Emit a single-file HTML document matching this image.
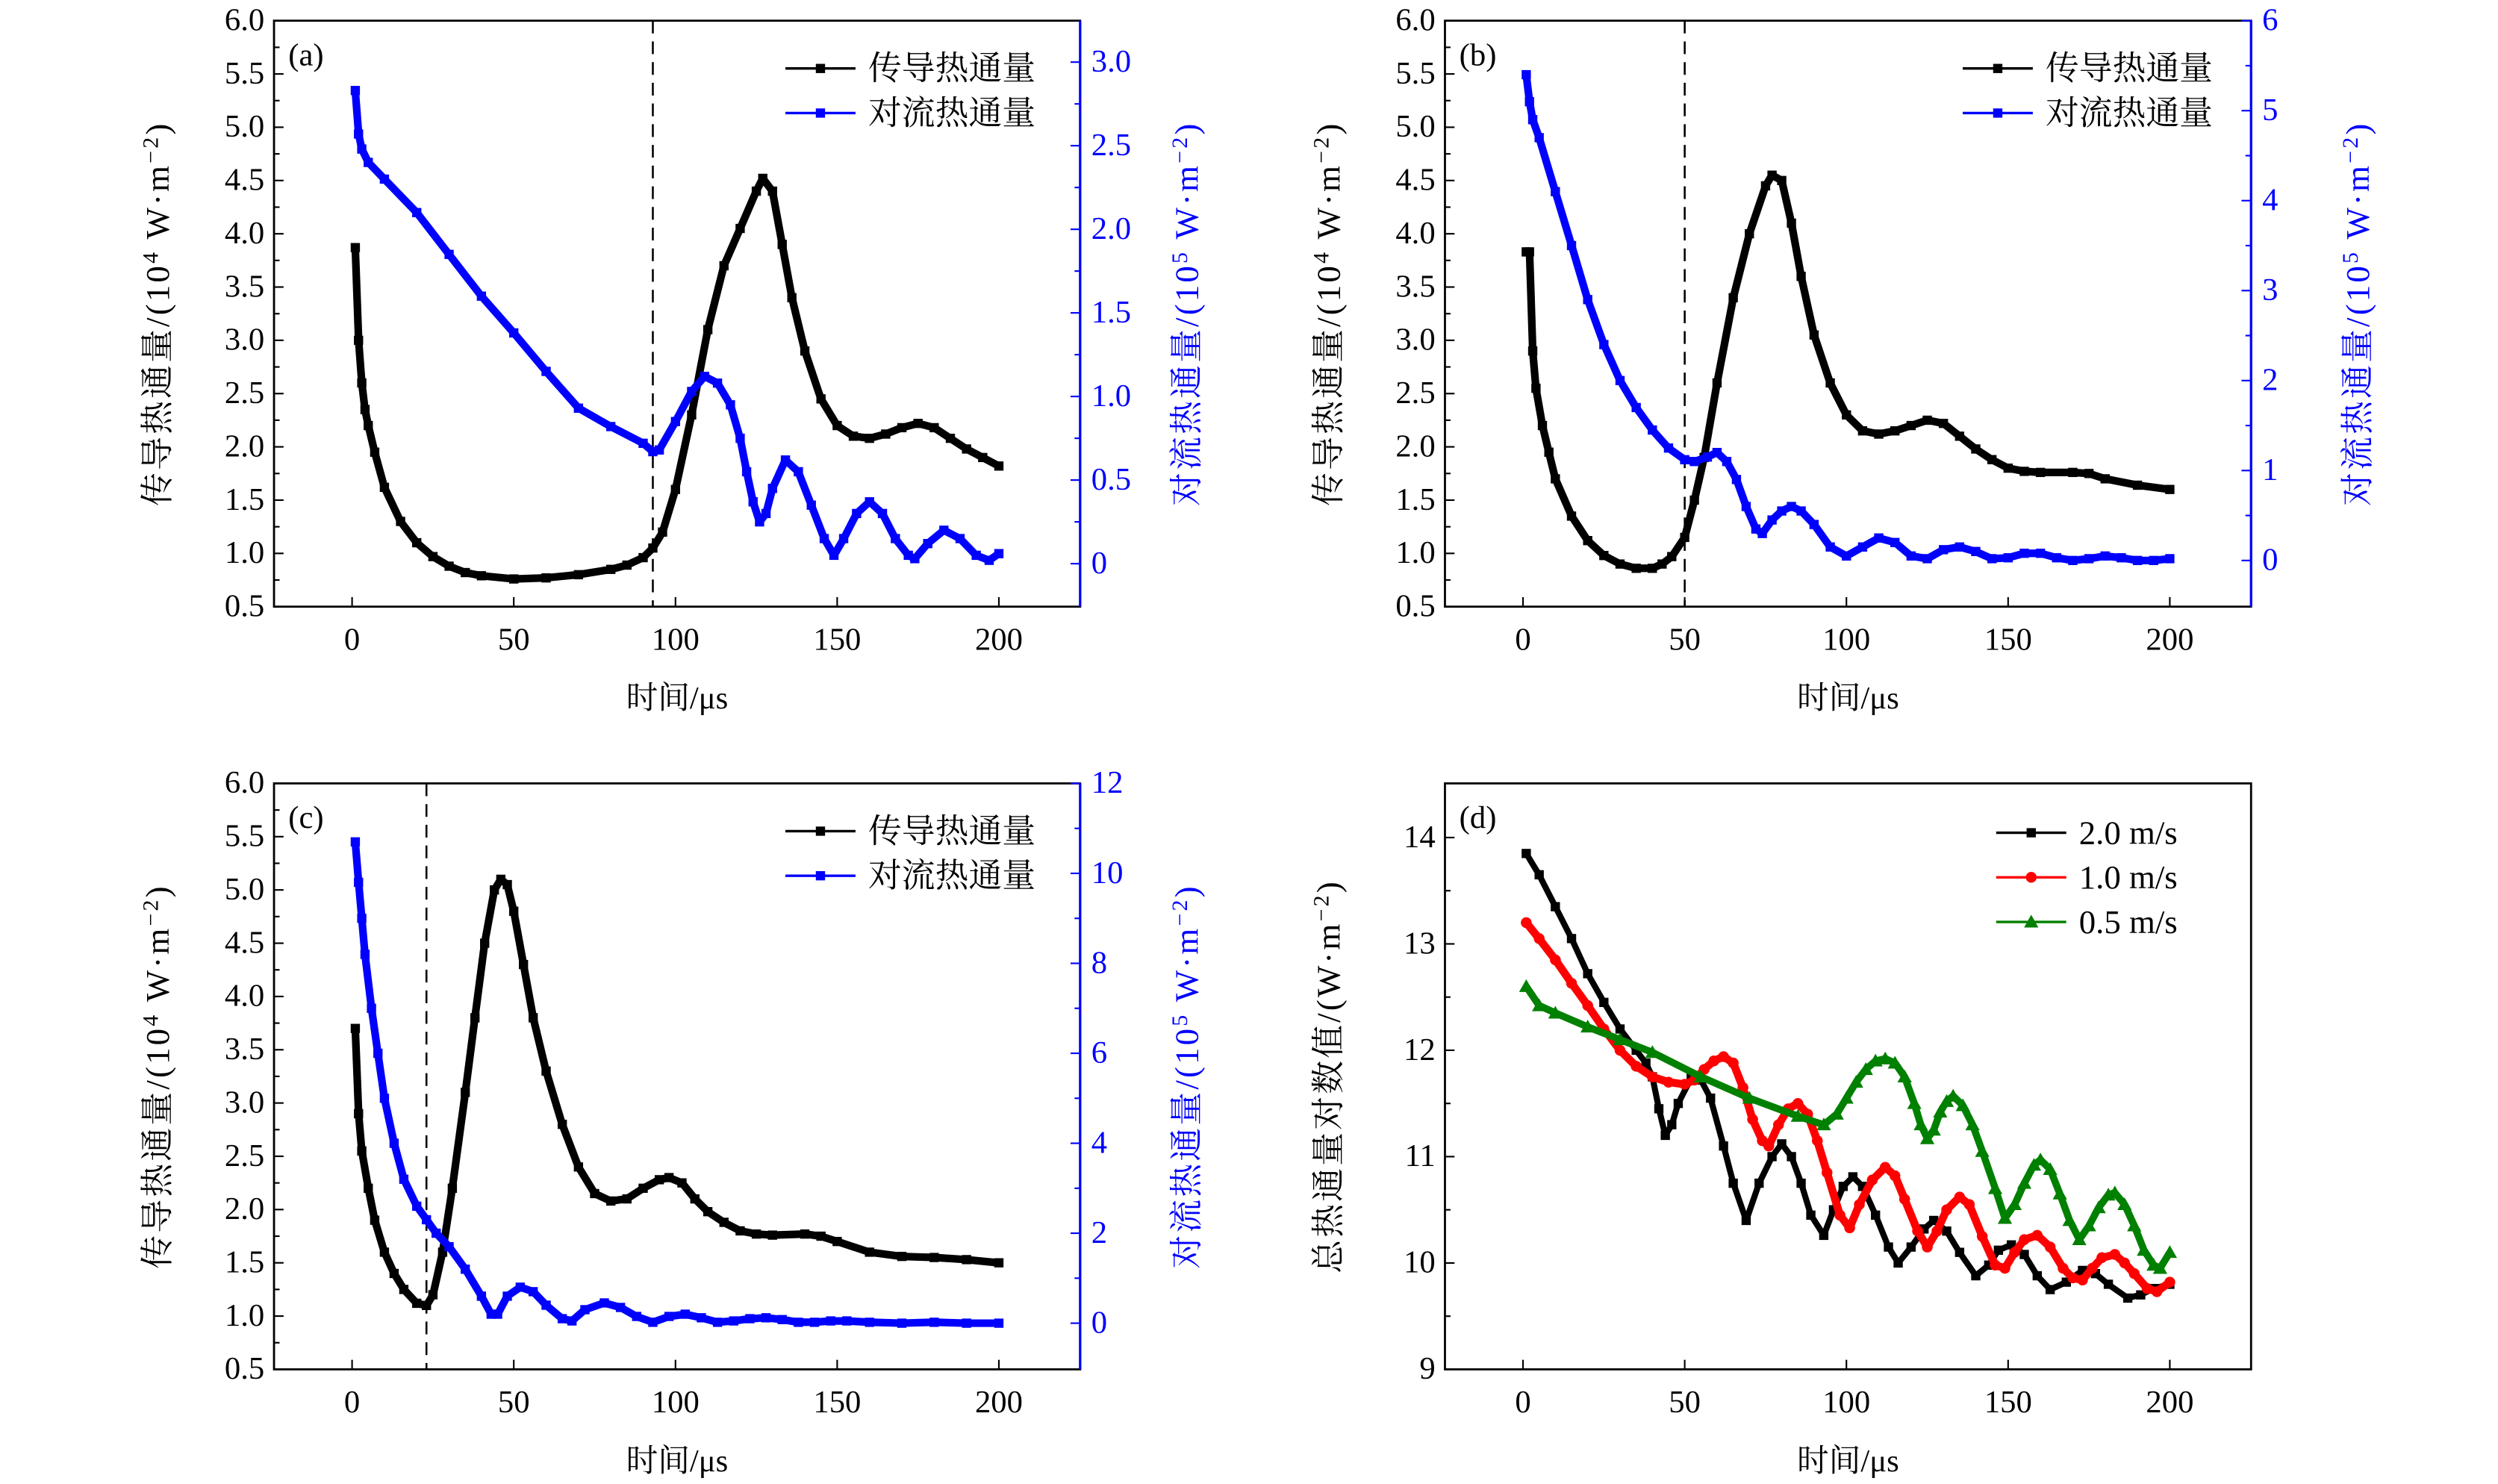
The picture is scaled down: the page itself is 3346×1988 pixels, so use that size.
<!DOCTYPE html>
<html><head><meta charset="utf-8"><style>
html,body{margin:0;padding:0;background:#fff;}
svg{display:block;}
text{font-family:"Liberation Serif","Noto Serif CJK SC",serif;}
</style></head><body>
<svg id="fig" width="3346" height="1988" viewBox="0 0 1568 932" preserveAspectRatio="none" xmlns="http://www.w3.org/2000/svg"></svg>
<script>
// ---- panel (a) data ----
const aCondT=[1,2,3,4,5,7,10,15,20,25,30,35,40,50,60,70,80,85,90,93,96,100,105,110,115,120,125,127,130,133,136,140,145,150,155,160,165,170,175,180,185,190,195,200];
const aCondV=[3.87,3.0,2.6,2.35,2.2,1.95,1.62,1.3,1.1,0.97,0.88,0.82,0.79,0.76,0.77,0.8,0.85,0.89,0.96,1.05,1.2,1.6,2.3,3.1,3.7,4.05,4.4,4.52,4.4,3.9,3.4,2.9,2.45,2.2,2.1,2.08,2.12,2.18,2.22,2.18,2.08,1.98,1.9,1.82];
const aConvT=[1,2,3,5,10,20,30,40,50,60,70,80,90,93,95,100,105,109,113,117,120,122,124,126,128,130,134,138,142,146,149,152,156,160,164,168,172,174,178,183,188,193,197,200];
const aConvV=[2.83,2.57,2.48,2.4,2.3,2.1,1.85,1.6,1.38,1.15,0.93,0.82,0.72,0.67,0.68,0.85,1.03,1.12,1.08,0.95,0.75,0.55,0.37,0.25,0.3,0.45,0.62,0.55,0.35,0.15,0.05,0.15,0.3,0.37,0.3,0.15,0.05,0.03,0.12,0.2,0.15,0.05,0.02,0.06];
// ---- panel (b) data ----
const bCondT=[1,2,3,4,6,8,10,15,20,25,30,35,40,43,46,50,53,56,60,65,70,75,77,80,83,86,90,95,100,105,110,115,120,125,130,135,140,145,150,155,160,170,175,180,190,200];
const bCondV=[3.83,3.83,2.9,2.55,2.2,1.95,1.7,1.35,1.12,0.98,0.9,0.86,0.86,0.9,0.97,1.15,1.5,1.9,2.6,3.4,4.0,4.45,4.55,4.5,4.1,3.6,3.05,2.6,2.3,2.15,2.12,2.15,2.2,2.25,2.22,2.1,1.98,1.88,1.8,1.77,1.76,1.76,1.75,1.7,1.64,1.6];
const bConvT=[1,2,3,5,10,15,20,25,30,35,40,45,50,53,57,60,63,66,69,72,74,77,80,83,86,90,95,100,105,110,115,120,125,130,135,140,145,150,155,160,165,170,175,180,185,190,195,200];
const bConvV=[5.4,5.1,4.9,4.7,4.1,3.5,2.9,2.4,2.0,1.7,1.45,1.25,1.12,1.1,1.15,1.2,1.1,0.9,0.6,0.35,0.3,0.45,0.55,0.6,0.55,0.4,0.15,0.05,0.15,0.25,0.2,0.05,0.02,0.12,0.15,0.1,0.02,0.03,0.08,0.08,0.03,0.0,0.02,0.05,0.03,0.0,0.0,0.02];
// ---- panel (c) data ----
const cCondT=[1,2,3,5,7,10,13,16,20,23,25,28,31,35,38,41,44,46,48,50,53,56,60,65,70,75,80,85,90,95,98,102,106,110,115,120,125,130,140,145,150,160,170,180,190,200];
const cCondV=[3.7,2.9,2.55,2.2,1.9,1.6,1.4,1.25,1.12,1.1,1.2,1.6,2.2,3.1,3.8,4.5,5.0,5.1,5.05,4.8,4.3,3.8,3.3,2.8,2.4,2.15,2.08,2.1,2.2,2.28,2.3,2.25,2.1,1.98,1.88,1.8,1.77,1.76,1.77,1.75,1.7,1.6,1.56,1.55,1.53,1.5];
const cConvT=[1,2,3,4,6,8,10,13,16,20,23,26,30,35,40,43,45,48,52,56,60,65,68,72,78,83,88,93,98,103,108,113,118,123,128,133,138,143,148,153,160,170,180,190,200];
const cConvV=[10.7,9.8,9.0,8.2,7.0,6.0,5.0,4.0,3.2,2.6,2.3,2.0,1.7,1.2,0.6,0.2,0.2,0.6,0.8,0.7,0.4,0.1,0.05,0.3,0.45,0.35,0.15,0.02,0.15,0.2,0.12,0.02,0.05,0.1,0.12,0.08,0.02,0.02,0.05,0.05,0.02,0.0,0.02,0.0,0.0];
// ---- panel (d) data ----
const d20T=[1,5,10,15,20,25,30,35,38,40,42,44,46,48,52,55,58,62,65,69,73,77,80,83,86,89,93,96,99,102,105,109,113,116,120,124,127,131,135,140,144,147,151,155,159,163,168,173,177,181,187,191,195,200];
const d20V=[13.85,13.65,13.35,13.05,12.72,12.45,12.2,12.0,11.88,11.75,11.45,11.2,11.3,11.5,11.74,11.72,11.55,11.1,10.75,10.4,10.75,11.0,11.12,11.0,10.75,10.45,10.26,10.5,10.72,10.81,10.72,10.45,10.15,10.0,10.15,10.32,10.4,10.3,10.1,9.88,9.98,10.12,10.17,10.08,9.88,9.75,9.82,9.93,9.9,9.8,9.67,9.7,9.76,9.8];
const d10T=[1,5,10,15,20,25,30,35,40,45,50,53,56,59,62,65,68,71,74,76,79,82,85,88,91,94,98,101,104,108,112,115,118,122,125,128,131,135,138,142,146,149,152,155,159,163,167,170,173,176,179,183,186,189,193,196,200];
const d10V=[13.2,13.05,12.85,12.63,12.42,12.2,12.0,11.85,11.75,11.7,11.68,11.72,11.82,11.9,11.94,11.88,11.65,11.35,11.15,11.1,11.3,11.45,11.5,11.4,11.15,10.85,10.45,10.33,10.55,10.78,10.9,10.82,10.6,10.3,10.15,10.3,10.5,10.62,10.55,10.25,9.98,9.95,10.1,10.22,10.26,10.15,9.95,9.86,9.84,9.95,10.05,10.08,10.0,9.9,9.76,9.73,9.82];
const d05T=[1,5,10,20,30,40,55,70,85,93,97,100,103,106,109,112,115,118,121,123,125,127,129,131,133,136,139,142,146,149,152,155,158,160,163,166,169,172,175,178,181,183,186,189,192,195,197,200];
const d05V=[12.6,12.42,12.35,12.22,12.1,11.98,11.75,11.55,11.38,11.3,11.4,11.55,11.7,11.82,11.9,11.92,11.88,11.75,11.5,11.3,11.17,11.25,11.42,11.52,11.57,11.48,11.3,11.05,10.7,10.42,10.55,10.75,10.92,10.97,10.88,10.65,10.4,10.22,10.35,10.52,10.64,10.66,10.55,10.35,10.12,9.98,9.95,10.1];
// tick label arrays
const xTicks=[0,50,100,150,200];
const leftTicks=[0.5,1.0,1.5,2.0,2.5,3.0,3.5,4.0,4.5,5.0,5.5,6.0];
const aRightTicks=[0,0.5,1.0,1.5,2.0,2.5,3.0];
const bRightTicks=[0,1,2,3,4,5,6];
const cRightTicks=[0,2,4,6,8,10,12];
const dTicks=[9,10,11,12,13,14];

const NS="http://www.w3.org/2000/svg";
const svg=document.getElementById('fig');
function mk(tag,attrs,parent){const e=document.createElementNS(NS,tag);for(const k in attrs)e.setAttribute(k,attrs[k]);(parent||svg).appendChild(e);return e;}

function panel(p){
  const g=mk('g',{});
  
  
  const X=t=>p.x0+(t-p.xmin)/(p.xmax-p.xmin)*(p.x1-p.x0);
  const YL=v=>p.y1-(v-p.lmin)/(p.lmax-p.lmin)*(p.y1-p.y0);
  const YR=p.rmin!==undefined?(v=>p.y1-(v-p.rmin)/(p.rmax-p.rmin)*(p.y1-p.y0)):null;
  const fr=mk('rect',{x:p.x0,y:p.y0,width:p.x1-p.x0,height:p.y1-p.y0,fill:'none',stroke:'#000','stroke-width':1.3},g);
  
  
  if(YR){const rl=mk('line',{x1:p.x1,x2:p.x1,y1:p.y0,y2:p.y1,stroke:'#0000ff','stroke-width':1.5},g);
    
    }
  xTicks.forEach(t=>{
    mk('line',{x1:X(t),x2:X(t),y1:p.y1,y2:p.y1-6,stroke:'#000','stroke-width':1},g);
    const tx=mk('text',{x:X(t),y:p.y1+27,'font-size':20,'text-anchor':'middle'},g);tx.textContent=t;
    
    
  });
  const lt=p.leftTicks, step=lt[1]-lt[0];
  lt.forEach((v,i)=>{
    mk('line',{x1:p.x0,x2:p.x0+6,y1:YL(v),y2:YL(v),stroke:'#000','stroke-width':1},g);
    if(i<lt.length-1){const m=v+step/2;mk('line',{x1:p.x0,x2:p.x0+3.5,y1:YL(m),y2:YL(m),stroke:'#000','stroke-width':1},g);}
    const tx=mk('text',{x:p.x0-6,y:YL(v)+6,'font-size':20,'text-anchor':'end'},g);
    tx.textContent=p.leftFmt?v.toFixed(1):v;
    
    
  });
  if(YR){
    const rt=p.rightTicks,rs=rt[1]-rt[0];
    rt.forEach((v,i)=>{
      mk('line',{x1:p.x1,x2:p.x1-6,y1:YR(v),y2:YR(v),stroke:'#0000ff','stroke-width':1},g);
      const m=v+rs/2; if(m<=p.rmax) mk('line',{x1:p.x1,x2:p.x1-3.5,y1:YR(m),y2:YR(m),stroke:'#0000ff','stroke-width':1},g);
      const tx=mk('text',{x:p.x1+7,y:YR(v)+6,'font-size':20,fill:'#0000ff'},g);
      tx.textContent=(v===0)?'0':(p.rightFmt?v.toFixed(1):v);
      
      
    });
  }
  const xl=mk('text',{x:(p.x0+p.x1)/2,y:p.y1+64,'font-size':20,'text-anchor':'middle'},g);
  xl.textContent='时间/μs';
  
  
  const cy=(p.y0+p.y1)/2;
  const yl=mk('text',{x:0,y:0,'font-size':21,'letter-spacing':1.5,'text-anchor':'middle',transform:`translate(${p.x0-66},${cy}) rotate(-90)`},g);
  yl.innerHTML=p.leftTitle;
  
  
  if(YR){
    const yr=mk('text',{x:0,y:0,'font-size':21,'letter-spacing':1.5,'text-anchor':'middle',fill:'#0000ff',transform:`translate(${p.x1+74},${cy}) rotate(-90)`},g);
    yr.innerHTML=p.rightTitle;
    
    
  }
  const pl=mk('text',{x:p.x0+9,y:p.y0+28,'font-size':20},g);pl.textContent='('+p.id+')';
  
  
  if(p.dash!==undefined){
    const dl=mk('line',{x1:X(p.dash),x2:X(p.dash),y1:p.y0,y2:p.y1,stroke:'#000','stroke-width':1.2,'stroke-dasharray':'8,5'},g);
    
    
  }
  p.series.forEach((s,si)=>{
    const Y=s.axis==='r'?YR:YL;
    const sg=mk('g',{},g);
    
    
    const pts=s.t.map((t,i)=>X(t).toFixed(1)+','+Y(s.v[i]).toFixed(1)).join(' ');
    mk('polyline',{points:pts,fill:'none',stroke:s.color,'stroke-width':s.w||4.8,'stroke-linejoin':'round'},sg);
    s.t.forEach((t,i)=>{
      const m=marker(s.mk,X(t),Y(s.v[i]),s.color,sg);
      
      
    });
    const ly=p.legY+si*p.legDy;
    const lg=mk('g',{},g);
    
    
    mk('line',{x1:p.legX,x2:p.legX+44,y1:ly,y2:ly,stroke:s.color,'stroke-width':1.6},lg);
    marker(s.mk,p.legX+22,ly,s.color,lg);
    const lt2=mk('text',{x:p.legX+52,y:ly+7,'font-size':21},lg);lt2.textContent=s.label;
  });
}
function marker(type,x,y,c,parent){
  if(type==='o')return mk('circle',{cx:x,cy:y,r:3.4,fill:c},parent);
  if(type==='^')return mk('polygon',{points:`${x},${y-4.5} ${x-4.5},${y+3.5} ${x+4.5},${y+3.5}`,fill:c},parent);
  return mk('rect',{x:x-2.9,y:y-2.9,width:5.8,height:5.8,fill:c},parent);
}
const XMIN=(172-221)/2.03, XMAX=(678-221)/2.03;
const condTitle='传导热通量/(10<tspan font-size="14" dy="-7">4</tspan><tspan dy="7"> W·m</tspan><tspan font-size="14" dy="-7">−2</tspan><tspan dy="7">)</tspan>';
const convTitle='对流热通量/(10<tspan font-size="14" dy="-7">5</tspan><tspan dy="7"> W·m</tspan><tspan font-size="14" dy="-7">−2</tspan><tspan dy="7">)</tspan>';
const common={xmin:XMIN,xmax:XMAX,lmin:0.5,lmax:6.0,leftTicks:leftTicks,leftFmt:true,leftTitle:condTitle,rightTitle:convTitle,legX:493,legDy:28};
panel(Object.assign({},common,{id:'a',x0:172,x1:678,y0:13,y1:381,rmin:(354-381)/105,rmax:(354-13)/105,rightTicks:aRightTicks,rightFmt:true,dash:93,legY:43,
  series:[{name:'conduction',t:aCondT,v:aCondV,color:'#000',mk:'s',axis:'l',label:'传导热通量'},{name:'convection',t:aConvT,v:aConvV,color:'#0000ff',mk:'s',axis:'r',label:'对流热通量'}]}));
panel(Object.assign({},common,{id:'b',x0:907,x1:1413,y0:13,y1:381,rmin:-29/56.5,rmax:6,rightTicks:bRightTicks,dash:50,legX:1232,legY:43,
  series:[{name:'conduction',t:bCondT,v:bCondV,color:'#000',mk:'s',axis:'l',label:'传导热通量'},{name:'convection',t:bConvT,v:bConvV,color:'#0000ff',mk:'s',axis:'r',label:'对流热通量'}]}));
panel(Object.assign({},common,{id:'c',x0:172,x1:678,y0:492,y1:860,rmin:-29/28.25,rmax:12,rightTicks:cRightTicks,dash:23,legY:522,
  series:[{name:'conduction',t:cCondT,v:cCondV,color:'#000',mk:'s',axis:'l',label:'传导热通量'},{name:'convection',t:cConvT,v:cConvV,color:'#0000ff',mk:'s',axis:'r',label:'对流热通量'}]}));
panel({id:'d',x0:907,x1:1413,y0:492,y1:860,xmin:XMIN,xmax:XMAX,lmin:9,lmax:9+368/66.8,leftTicks:dTicks,leftFmt:false,
  leftTitle:'总热通量对数值/(W·m<tspan font-size="14" dy="-7">−2</tspan><tspan dy="7">)</tspan>',legX:1253,legY:523,legDy:28,
  series:[{name:'2-0-ms',t:d20T,v:d20V,color:'#000',mk:'s',axis:'l',label:'2.0 m/s',w:3.8},
          {name:'1-0-ms',t:d10T,v:d10V,color:'#ff0000',mk:'o',axis:'l',label:'1.0 m/s',w:5},
          {name:'0-5-ms',t:d05T,v:d05V,color:'#008000',mk:'^',axis:'l',label:'0.5 m/s',w:4.5}]});
</script>
</body></html>
